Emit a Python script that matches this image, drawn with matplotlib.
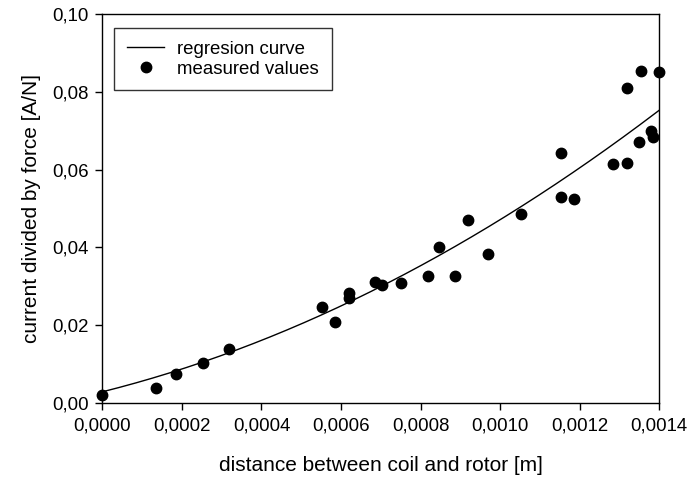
import numpy as np
import matplotlib
matplotlib.use("Agg")
import matplotlib.pyplot as plt
from matplotlib.ticker import FuncFormatter

plt.rcParams['font.family'] = ['Liberation Sans', 'DejaVu Sans']

# measured values
distance = [0.0, 0.000136, 0.000185, 0.000252, 0.000319, 0.000553, 0.000585,
            0.000619, 0.000619, 0.000685, 0.000703, 0.000752, 0.000819, 0.000846,
            0.000886, 0.000919, 0.000969, 0.001053, 0.001153, 0.001153, 0.001186,
            0.001284, 0.001320, 0.001320, 0.001350, 0.001354, 0.001378, 0.001384,
            0.001398]
current_per_force = [0.0020, 0.0038, 0.0073, 0.0101, 0.0137, 0.0247, 0.0208,
                     0.0283, 0.0269, 0.0311, 0.0304, 0.0308, 0.0325, 0.0400,
                     0.0325, 0.0471, 0.0383, 0.0486, 0.0530, 0.0643, 0.0525,
                     0.0614, 0.0617, 0.0809, 0.0670, 0.0855, 0.0700, 0.0683,
                     0.0851]

# regression curve coefficients (quadratic)
reg_a = 0.0028
reg_b = 25.64
reg_c = 18673.0

xticks = [0.0, 0.0002, 0.0004, 0.0006, 0.0008, 0.0010, 0.0012, 0.0014]
yticks = [0.0, 0.02, 0.04, 0.06, 0.08, 0.10]

fig = plt.figure(figsize=(6.89, 4.84), dpi=100)
ax = fig.add_axes([102.3 / 689, (484 - 402.7) / 484, 557 / 689, 388.5 / 484])

xc = np.linspace(0, 0.0014, 200)
yc = reg_a + reg_b * xc + reg_c * xc ** 2
ax.plot(xc, yc, color='black', lw=1.0, label='regresion curve')
ax.plot(distance, current_per_force, 'o', color='black', ms=7.5,
        label='measured values', clip_on=False)

ax.set_xlim(0, 0.0014)
ax.set_ylim(0, 0.10)
ax.set_xticks(xticks)
ax.set_yticks(yticks)
ax.xaxis.set_major_formatter(FuncFormatter(lambda v, p: f"{v:.4f}".replace('.', ',')))
ax.yaxis.set_major_formatter(FuncFormatter(lambda v, p: f"{v:.2f}".replace('.', ',')))
ax.tick_params(direction='out', length=5, width=1, labelsize=13.4, top=False, right=False)
ax.tick_params(axis='x', pad=6)
ax.tick_params(axis='y', pad=5)
for s in ax.spines.values():
    s.set_linewidth(1.0)

ax.set_xlabel('distance between coil and rotor [m]', fontsize=15, labelpad=15)
ax.set_ylabel('current divided by force [A/N]', fontsize=15, labelpad=8)

leg = ax.legend(loc='upper left', bbox_to_anchor=(12 / 557, 1 - 14 / 388.5),
                borderaxespad=0, fontsize=13.4, frameon=True, fancybox=False,
                edgecolor='black', handlelength=2.0, handletextpad=0.7,
                borderpad=0.68, labelspacing=0.15)
leg.get_frame().set_linewidth(1.0)

fig.savefig('out.png', dpi=100)
